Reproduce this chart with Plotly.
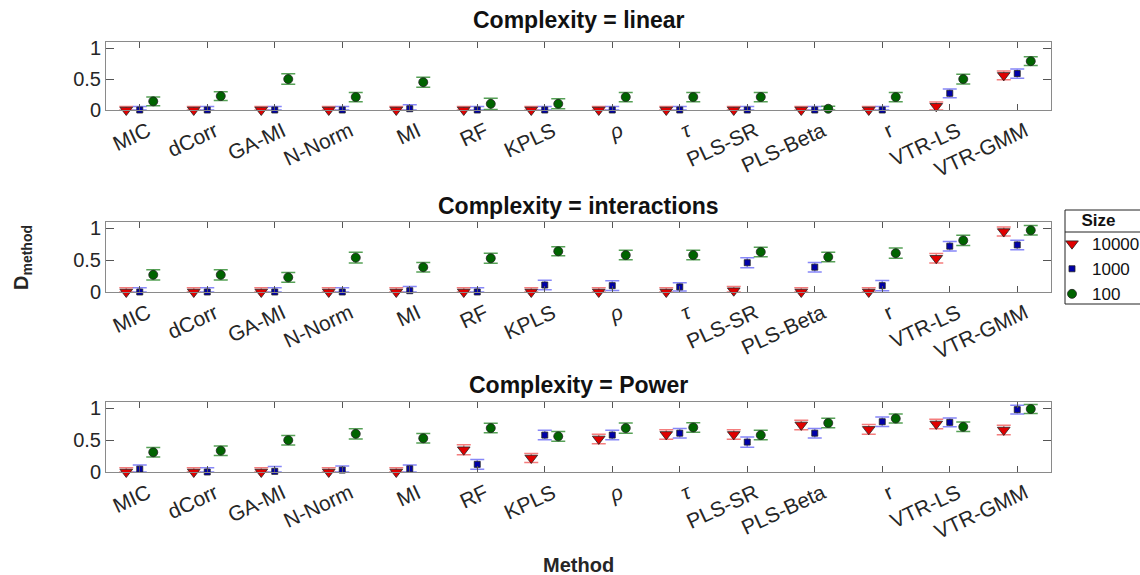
import plotly.graph_objects as go

methods = ["MIC", "dCorr", "GA-MI", "N-Norm", "MI", "RF", "KPLS", "<i>ρ</i>", "<i>τ</i>",
           "PLS-SR", "PLS-Beta", "r", "VTR-LS", "VTR-GMM"]
panel_titles = ["Complexity = linear", "Complexity = interactions", "Complexity = Power"]
sizes = ["10000", "1000", "100"]

# ---- Complexity = linear ----
lin_10000 = [0, 0, 0, 0, 0, 0, 0, 0, 0, 0, 0, 0, 0.06, 0.56]
lin_10000_err = [0.055, 0.055, 0.055, 0.055, 0.055, 0.055, 0.055, 0.055, 0.055, 0.055, 0.055, 0.055, 0.07, 0.07]
lin_1000 = [0, 0, 0, 0, 0.02, 0, 0, 0, 0, 0, 0, 0, 0.27, 0.59]
lin_1000_err = [0.055, 0.055, 0.055, 0.055, 0.065, 0.055, 0.055, 0.055, 0.055, 0.055, 0.055, 0.055, 0.07, 0.075]
lin_100 = [0.14, 0.225, 0.5, 0.21, 0.45, 0.1, 0.1, 0.21, 0.21, 0.21, 0.02, 0.21, 0.5, 0.79]
lin_100_err = [0.07, 0.07, 0.085, 0.075, 0.08, 0.09, 0.08, 0.075, 0.075, 0.075, 0.04, 0.075, 0.08, 0.07]

# ---- Complexity = interactions ----
int_10000 = [0, 0, 0, 0, 0, 0, 0, 0, 0, 0.02, 0, 0, 0.53, 0.95]
int_10000_err = [0.065, 0.065, 0.065, 0.065, 0.065, 0.065, 0.065, 0.065, 0.065, 0.065, 0.065, 0.065, 0.075, 0.07]
int_1000 = [0, 0, 0, 0, 0.02, 0, 0.11, 0.1, 0.08, 0.46, 0.39, 0.1, 0.72, 0.74]
int_1000_err = [0.065, 0.065, 0.065, 0.065, 0.065, 0.065, 0.075, 0.075, 0.065, 0.08, 0.075, 0.08, 0.075, 0.075]
int_100 = [0.27, 0.27, 0.23, 0.54, 0.39, 0.53, 0.64, 0.58, 0.58, 0.63, 0.55, 0.61, 0.81, 0.97]
int_100_err = [0.08, 0.08, 0.075, 0.085, 0.075, 0.08, 0.07, 0.075, 0.075, 0.075, 0.075, 0.08, 0.08, 0.075]

# ---- Complexity = Power ----
pow_10000 = [0, 0, 0, 0, 0, 0.35, 0.22, 0.52, 0.59, 0.59, 0.74, 0.67, 0.755, 0.66]
pow_10000_err = [0.065, 0.065, 0.065, 0.065, 0.065, 0.08, 0.07, 0.075, 0.075, 0.075, 0.075, 0.075, 0.075, 0.075]
pow_1000 = [0.045, 0, 0.01, 0.03, 0.05, 0.12, 0.58, 0.58, 0.61, 0.47, 0.61, 0.79, 0.78, 0.98]
pow_1000_err = [0.065, 0.065, 0.075, 0.065, 0.06, 0.075, 0.075, 0.075, 0.075, 0.08, 0.075, 0.075, 0.07, 0.07]
pow_100 = [0.31, 0.335, 0.5, 0.6, 0.53, 0.69, 0.56, 0.69, 0.7, 0.58, 0.77, 0.84, 0.71, 0.99]
pow_100_err = [0.075, 0.075, 0.075, 0.08, 0.075, 0.075, 0.075, 0.08, 0.075, 0.075, 0.075, 0.07, 0.075, 0.07]

panels = [
    [(lin_10000, lin_10000_err), (lin_1000, lin_1000_err), (lin_100, lin_100_err)],
    [(int_10000, int_10000_err), (int_1000, int_1000_err), (int_100, int_100_err)],
    [(pow_10000, pow_10000_err), (pow_1000, pow_1000_err), (pow_100, pow_100_err)],
]

styles = [
    dict(symbol="triangle-down", size=11, color="#e00000", err="rgba(240,70,70,0.7)", offset=-0.2),
    dict(symbol="square", size=6, color="#0000a8", err="rgba(70,70,245,0.65)", offset=0.0),
    dict(symbol="circle", size=9, color="#006400", err="rgba(30,130,30,0.75)", offset=0.2),
]

W, H = 1140, 575
x_left, x_right = 106, 1051
panel_px = [(42, 110), (222, 292), (402, 472)]

fig = go.Figure()
idx = list(range(len(methods)))

for p, series in enumerate(panels):
    xa = "x" if p == 0 else f"x{p+1}"
    ya = "y" if p == 0 else f"y{p+1}"
    for s, (vals, errs) in enumerate(series):
        st = styles[s]
        minus = [min(e, v) for v, e in zip(vals, errs)]
        fig.add_trace(go.Scatter(
            x=[i + st["offset"] for i in idx], y=vals,
            mode="markers", xaxis=xa, yaxis=ya,
            name=sizes[s], legendgroup=sizes[s], showlegend=(p == 0),
            cliponaxis=False,
            marker=dict(symbol=st["symbol"], size=st["size"], color=st["color"],
                        line=dict(color="#222222", width=0.8)),
            error_y=dict(type="data", symmetric=False, array=errs, arrayminus=minus,
                         color=st["err"], thickness=1.5, width=7),
        ))

layout = dict(
    width=W, height=H,
    paper_bgcolor="white", plot_bgcolor="white",
    margin=dict(l=0, r=0, t=0, b=0, autoexpand=False),
    font=dict(family="Liberation Sans, Arial, sans-serif", color="#262626"),
    showlegend=True,
    legend=dict(
        x=1052 / W, y=1 - 204 / H, xanchor="left", yanchor="top",
        borderwidth=0, bgcolor="rgba(0,0,0,0)",
        font=dict(size=17, color="#111111"),
        title=dict(text="<b>Size</b>", side="top center", font=dict(size=17)),
        tracegroupgap=0, itemwidth=30,
    ),
)

for p in range(3):
    top, bot = panel_px[p]
    xk = "xaxis" if p == 0 else f"xaxis{p+1}"
    yk = "yaxis" if p == 0 else f"yaxis{p+1}"
    ya = "y" if p == 0 else f"y{p+1}"
    xa = "x" if p == 0 else f"x{p+1}"
    layout[xk] = dict(
        domain=[x_left / W, x_right / W], anchor=ya,
        range=[-0.5, len(methods) - 0.5],
        tickmode="array", tickvals=idx, ticktext=methods, tickangle=-25,
        ticks="inside", ticklen=6, tickcolor="#555555",
        showline=True, linecolor="#8a8a8a", linewidth=1, mirror="ticks",
        showgrid=False, zeroline=False, ticklabelshift=8,
        tickfont=dict(size=21, color="#262626"),
    )
    layout[yk] = dict(
        domain=[1 - bot / H, 1 - top / H], anchor=xa,
        range=[0, 1.1],
        tickmode="array", tickvals=[0, 0.5, 1], ticktext=["0", "0.5", "1"],
        ticks="inside", ticklen=8, tickcolor="#555555",
        showline=True, linecolor="#8a8a8a", linewidth=1, mirror="ticks",
        showgrid=False, zeroline=False,
        tickfont=dict(size=20, color="#262626"),
    )

fig.update_layout(**layout)

title_y = [20, 206, 385]
for p in range(3):
    fig.add_annotation(x=(x_left + x_right) / 2 / W, y=1 - title_y[p] / H, xref="paper", yref="paper",
                       text=f"<b>{panel_titles[p]}</b>", showarrow=False,
                       font=dict(size=23, color="#111111"), xanchor="center", yanchor="middle")

fig.add_annotation(x=(x_left + x_right) / 2 / W, y=1 - 565 / H, xref="paper", yref="paper",
                   text="<b>Method</b>", showarrow=False, font=dict(size=20, color="#262626"),
                   xanchor="center", yanchor="middle")
fig.add_annotation(x=22 / W, y=1 - 258 / H, xref="paper", yref="paper",
                   text="<b>D<sub>method</sub></b>", showarrow=False, textangle=-90,
                   font=dict(size=20, color="#262626"), xanchor="center", yanchor="middle")

# legend frame and separator line under legend title
fig.add_shape(type="rect", xref="paper", yref="paper",
              x0=1065 / W, x1=1.05, y0=1 - 304 / H, y1=1 - 210 / H,
              line=dict(color="#222222", width=1), layer="below")
fig.add_shape(type="line", xref="paper", yref="paper",
              x0=1065 / W, x1=1.0, y0=1 - 232 / H, y1=1 - 232 / H,
              line=dict(color="#222222", width=1))

fig.write_html("out.html")
